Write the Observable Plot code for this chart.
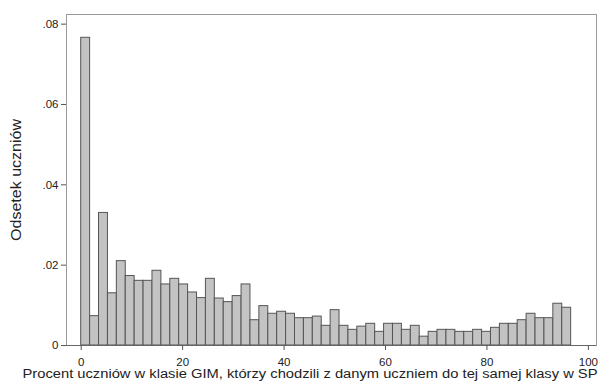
<!DOCTYPE html>
<html><head><meta charset="utf-8">
<script src="https://cdn.jsdelivr.net/npm/d3@7"></script>
<script src="https://cdn.jsdelivr.net/npm/@observablehq/plot@0.6"></script>
<style>
body{margin:0;background:#fff}
svg{font-family:"Liberation Sans",Arial,sans-serif}
</style>
</head><body><div id="chart"></div>
<script>
const binWidth = 1.7564;
const shares = [0.0766, 0.0073, 0.0330, 0.0130, 0.0210, 0.0173, 0.0161, 0.0161, 0.0186, 0.0152,
  0.0166, 0.0152, 0.0132, 0.0118, 0.0166, 0.0117, 0.0108, 0.0123, 0.0152, 0.0063,
  0.0098, 0.0079, 0.0084, 0.0079, 0.0068, 0.0068, 0.0072, 0.0049, 0.0088, 0.0049,
  0.0039, 0.0047, 0.0054, 0.0034, 0.0054, 0.0054, 0.0039, 0.0049, 0.0022, 0.0034,
  0.0039, 0.0039, 0.0034, 0.0034, 0.0039, 0.0034, 0.0044, 0.0054, 0.0054, 0.0063,
  0.0079, 0.0068, 0.0068, 0.0104, 0.0094];
const xTicks = [0, 20, 40, 60, 80, 100];
const yTicks = [0, 0.02, 0.04, 0.06, 0.08];
const yTickLabels = ["0", ".02", ".04", ".06", ".08"];
const xTitle = "Procent uczniów w klasie GIM, którzy chodzili z danym uczniem do tej samej klasy w SP";
const yTitle = "Odsetek uczniów";

const bins = shares.map((v, i) => ({x1: i * binWidth, x2: (i + 1) * binWidth, y: v}));

const chart = Plot.plot({
  width: 602, height: 386,
  marginLeft: 66, marginRight: 6, marginTop: 14, marginBottom: 41,
  style: {fontFamily: "'Liberation Sans', Arial, sans-serif", fontSize: "12px", color: "#222", background: "#fff"},
  x: {domain: [-2.9, 101.6]},
  y: {domain: [0, 0.0824]},
  marks: [
    Plot.rectY(bins, {x1: "x1", x2: "x2", y1: 0, y2: "y", fill: "#c3c3c3", stroke: "#555", strokeWidth: 1, inset: 0}),
    Plot.frame({stroke: "#9a9a9a"}),
    Plot.ruleY([0], {stroke: "#666"}),
    Plot.axisX({ticks: xTicks, tickSize: 5, tickPadding: 7, label: null, stroke: "#555", fontSize: 11.5}),
    Plot.axisY({ticks: yTicks, tickFormat: d => yTickLabels[yTicks.indexOf(d)], tickSize: 5, tickPadding: 3, label: null, stroke: "#555", fontSize: 11.5}),
    Plot.text([xTitle], {text: d => d, frameAnchor: "bottom", textAnchor: "middle", dy: 32.5, dx: -21.5, fontSize: 12, fill: "#222"}),
    Plot.text([yTitle], {text: d => d, frameAnchor: "left", textAnchor: "middle", dx: -50, rotate: -90, fontSize: 14, fill: "#222"})
  ]
});
document.getElementById("chart").appendChild(chart);
// fit the titles to the reference's text extents
chart.querySelectorAll("text").forEach(t => {
  if (t.textContent === xTitle) { t.setAttribute("textLength", 575); t.setAttribute("lengthAdjust", "spacingAndGlyphs"); }
  if (t.textContent === yTitle) { t.setAttribute("textLength", 122); t.setAttribute("lengthAdjust", "spacingAndGlyphs"); }
});
</script>
</body></html>
